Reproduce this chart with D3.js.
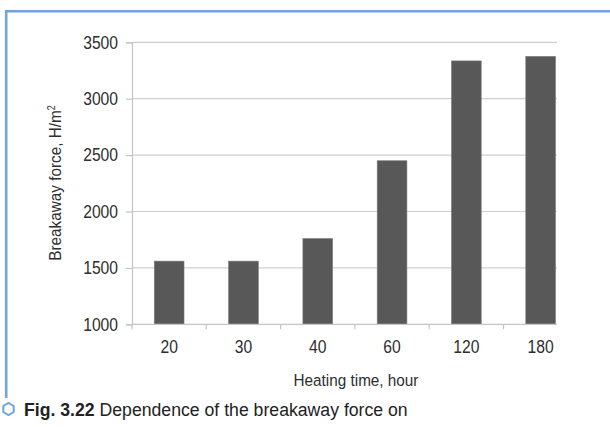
<!DOCTYPE html>
<html>
<head>
<meta charset="utf-8">
<script src="https://cdn.jsdelivr.net/npm/d3@7"></script>
<style>
  html, body { margin: 0; padding: 0; background: #fff; }
  svg { display: block; }
</style>
</head>
<body>
<svg id="chart" width="610" height="427"></svg>
<script>
const categories = ["20", "30", "40", "60", "120", "180"];
const values = [1560, 1560, 1760, 2450, 3335, 3375];
const yTicks = [1000, 1500, 2000, 2500, 3000, 3500];
const xTitle = "Heating time, hour";
const yTitle = "Breakaway force, H/m";
const captionBold = "Fig. 3.22";
const captionText = "Dependence of the breakaway force on";

const svg = d3.select("#chart");
const frameColor = "#6fa3e1";
const textColor = "#2e2e2e";
const font = "'Liberation Sans', Arial, sans-serif";

function ctext(parent, px, py, rot, anchor, size, str, sx) {
  const g = parent.append("g")
    .attr("transform", `translate(${px},${py}) rotate(${rot}) scale(${sx},1)`);
  return g.append("text").attr("text-anchor", anchor).attr("fill", textColor)
    .style("font-family", font).style("font-size", size + "px").text(str);
}

// frame
svg.append("line").attr("x1", 5).attr("x2", 610).attr("y1", 11.3).attr("y2", 11.3)
  .attr("stroke", frameColor).attr("stroke-width", 2.6);
svg.append("line").attr("x1", 6.2).attr("x2", 6.2).attr("y1", 10).attr("y2", 398)
  .attr("stroke", frameColor).attr("stroke-width", 2.6);

const x = d3.scaleBand().domain(categories).range([132, 132 + 6 * 74.3])
  .paddingInner(0.6).paddingOuter(0.3);
const y = d3.scaleLinear().domain([1000, 3500]).range([324.3, 42.3]);
const axisEnd = 557;

// gridlines
svg.append("g").selectAll("line").data(yTicks.slice(1)).join("line")
  .attr("x1", 132).attr("x2", axisEnd)
  .attr("y1", d => y(d)).attr("y2", d => y(d))
  .attr("stroke", "#cfcfcf").attr("stroke-width", 1.2);

// y axis
const yAxis = svg.append("g").attr("transform", "translate(132,0)")
  .call(d3.axisLeft(y).tickValues(yTicks).tickSize(6).tickFormat(() => ""));
yAxis.select(".domain").attr("stroke", "#c4c4c4").attr("stroke-width", 1.2);
yAxis.selectAll(".tick line").attr("stroke", "#c4c4c4").attr("stroke-width", 1.2);
yTicks.forEach(t => {
  ctext(svg, 118, y(t) + 6.3, 0, "end", 18, d3.format("d")(t), 0.87);
});

// bars
svg.append("g").selectAll("rect").data(values).join("rect")
  .attr("x", (d, i) => x(categories[i]))
  .attr("width", x.bandwidth())
  .attr("y", d => y(d))
  .attr("height", d => y(1000) - y(d))
  .attr("fill", "#585858")
  .attr("stroke", "#7a7a7a").attr("stroke-width", 0.6);

// x axis
svg.append("line").attr("x1", 132).attr("x2", axisEnd)
  .attr("y1", y(1000)).attr("y2", y(1000))
  .attr("stroke", "#c4c4c4").attr("stroke-width", 1.2);
const boundaries = categories.map((c, i) => x.range()[0] + i * x.step());
svg.append("g").selectAll("line").data(boundaries).join("line")
  .attr("x1", d => d).attr("x2", d => d)
  .attr("y1", y(1000)).attr("y2", y(1000) + 5)
  .attr("stroke", "#c4c4c4").attr("stroke-width", 1.2);
categories.forEach(c => {
  ctext(svg, x(c) + x.bandwidth() / 2, 353, 0, "middle", 18, c, 0.87);
});

// axis titles
ctext(svg, 356, 386, 0, "middle", 17, xTitle, 0.9);
const yt = ctext(svg, 61, 183, -90, "middle", 17, "", 0.9);
yt.append("tspan").text(yTitle);
yt.append("tspan").attr("dy", -6).style("font-size", "10px").text("2");

// caption
const hex = d3.range(6).map(i => {
  const a = Math.PI / 3 * i + Math.PI / 6;
  return [8.5 + 6 * Math.cos(a), 409 + 6 * Math.sin(a)];
});
svg.append("path").attr("d", d3.line()(hex) + "Z")
  .attr("fill", "none").attr("stroke", frameColor).attr("stroke-width", 2);
const capG = svg.append("g").attr("transform", "translate(24,416) scale(0.93,1)");
const cap = capG.append("text").attr("fill", "#222")
  .style("font-family", font).style("font-size", "19px");
cap.append("tspan").style("font-weight", "bold").text(captionBold);
cap.append("tspan").text(" " + captionText);
</script>
</body>
</html>
